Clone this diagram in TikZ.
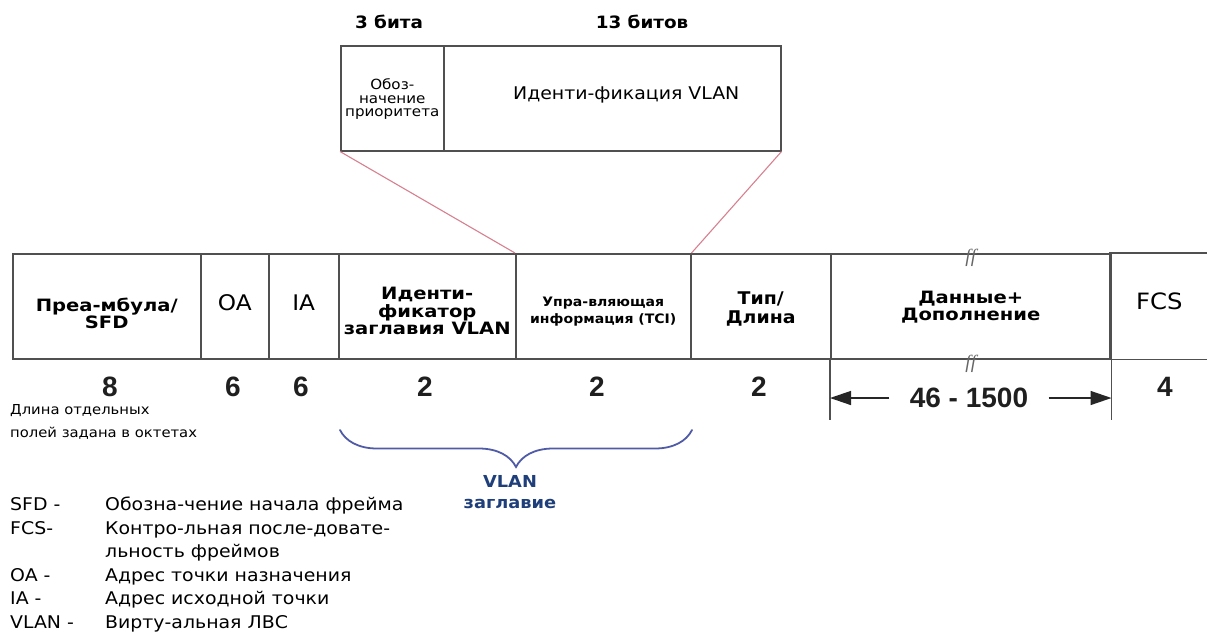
\documentclass[tikz,border=0pt]{standalone}
\usepackage{fontspec}
\setmainfont[FakeStretch=1.08]{DejaVu Sans}
\newfontfamily\widefont[FakeStretch=1.15]{DejaVu Sans}
\newfontfamily\numfont{Liberation Sans}
\newfontfamily\breakfont{Liberation Serif}
\usetikzlibrary{decorations.pathreplacing,arrows.meta}
\definecolor{linegray}{HTML}{505050}
\definecolor{zoompink}{HTML}{D7808F}
\definecolor{bracebl}{HTML}{4F5BA6}
\definecolor{vlanbl}{HTML}{1F3F7A}

\begin{document}
\begin{tikzpicture}[x=1pt,y=-1pt,
   field/.style={draw=linegray,line width=1.5pt,minimum height=105pt,
                 inner sep=0pt,anchor=north west},
   fieldtext/.style={align=center,inner sep=0pt},
   widelab/.style={fieldtext,font=\widefont\fontsize{17}{17.5}\selectfont\bfseries},
   plainlab/.style={fieldtext,font=\fontsize{21.5}{22}\selectfont},
   octets/.style={font=\numfont\fontsize{28}{28}\selectfont\bfseries,text=black!88},
   bits/.style={font=\fontsize{17}{17}\selectfont\bfseries},
   zoomline/.style={draw=zoompink,line width=1.1pt},
   dimline/.style={draw=black!85,line width=1.4pt,-{Triangle[length=21pt,width=14pt]}},
   breakmark/.style={font=\breakfont\itshape\fontsize{19}{19}\selectfont,text=black!60,inner sep=0pt}]
\useasboundingbox (0,0) rectangle (1207,633);

% tag detail above
\node[bits] (bits3) at (389,22) {3 бита};
\node[bits] (bits13) at (642,22) {13 битов};
\node[field,minimum width=103pt] (prio) at (340,45) {};
\node[field,minimum width=337pt] (vid) at (443,45) {};
\node[fieldtext,font=\fontsize{14}{13.5}\selectfont] (priotext) at ([yshift=-1pt]prio.center)
     {Обоз-\\начение\\приоритета};
\node[fieldtext,font=\fontsize{17.5}{18}\selectfont] (vidtext) at ([xshift=14pt,yshift=3pt]vid.center)
     {Иденти-фикация VLAN};

% frame fields
\node[field,minimum width=188pt] (pre) at (12,253) {};
\node[field,minimum width=68pt] (oa) at (200,253) {};
\node[field,minimum width=70pt] (ia) at (268,253) {};
\node[field,minimum width=177pt] (vhid) at (338,253) {};
\node[field,minimum width=175pt] (tci) at (515,253) {};
\node[field,minimum width=140pt] (typ) at (690,253) {};
\node[field,minimum width=280pt] (data) at (830,253) {};
\node[field,draw=none,minimum width=97pt] (fcs) at (1110,253) {};
\draw[linegray,line width=1.5pt] (fcs.north east) -- (fcs.north west) -- (fcs.south west) -- (fcs.south east);

\node[widelab] (pretext) at ([yshift=-7pt]pre.center) {Преа-мбула/\\SFD};
\node[plainlab] (oatext) at ([yshift=4pt]oa.center) {OA};
\node[plainlab] (iatext) at ([yshift=4pt]ia.center) {IA};
\node[widelab] (vhidtext) at ([yshift=-5pt]vhid.center) {Иденти-\\фикатор\\заглавия VLAN};
\node[fieldtext,font=\fontsize{13}{17}\selectfont\bfseries] (tcitext) at ([yshift=-5pt]tci.center)
     {Упра-вляющая\\информация (TCI)};
\node[fieldtext,font=\fontsize{17.5}{19}\selectfont\bfseries] (typtext) at ([yshift=-3pt]typ.center) {Тип/\\Длина};
\node[widelab] (datatext) at ([yshift=-1pt]data.center) {Данные+\\Дополнение};
\node[plainlab,font=\fontsize{22.5}{23}\selectfont] (fcstext) at ([yshift=5pt]fcs.center) {FCS};

\node[breakmark] (brk1) at ([yshift=-5pt]data.north) {ff};
\node[breakmark] (brk2) at ([yshift=-4pt]data.south) {ff};

% zoom lines
\draw[zoomline] (prio.south west) -- (tci.north west);
\draw[zoomline] (vid.south east) -- (tci.north east);

% lengths in octets
\node[octets] (n1) at (110,387) {8};
\node[octets] (n2) at (233,387) {6};
\node[octets] (n3) at (301,387) {6};
\node[octets] (n4) at (425,387) {2};
\node[octets] (n5) at (597,387) {2};
\node[octets] (n6) at (759,387) {2};
\node[octets] (n7) at (1165,387) {4};
\node[octets] (len) at (969,398) {46 - 1500};

\draw[linegray,line width=1.5pt] (data.south west) -- ++(0,60) coordinate (dimL);
\draw[linegray,line width=1.5pt] (data.south east) -- ++(0,60) coordinate (dimR);
\draw[dimline] ([xshift=-17pt]len.west) -- (len.west -| dimL);
\draw[dimline] ([xshift=17pt]len.east) -- (len.east -| dimR);

\node[anchor=north west,align=left,inner sep=0pt,font=\fontsize{13.7}{23}\selectfont] (note) at (10,404)
     {Длина отдельных\\полей задана в октетах};

% VLAN header brace
\coordinate (braceL) at (340,430);
\coordinate (braceR) at (692,430);
\draw[bracebl,line width=1.8pt,line cap=round,decorate,decoration={brace,mirror,amplitude=37pt}]
     (braceL) -- (braceR);
\node[font=\fontsize{16.5}{21}\selectfont\bfseries,text=vlanbl,align=center] (vlanlab) at (510,492)
     {VLAN\\заглавие};

% legend
\node[anchor=north west,inner sep=0pt,font=\fontsize{17.5}{23.5}\selectfont] (legend) at (10,494)
     {\begin{tabular}{@{}p{95pt}@{}l@{}}
      SFD -  & Обозна-чение начала фрейма\\
      FCS-   & Контро-льная после-довате-\\
             & льность фреймов\\
      OA -   & Адрес точки назначения\\
      IA -   & Адрес исходной точки\\
      VLAN - & Вирту-альная ЛВС
      \end{tabular}};
\end{tikzpicture}
\end{document}
